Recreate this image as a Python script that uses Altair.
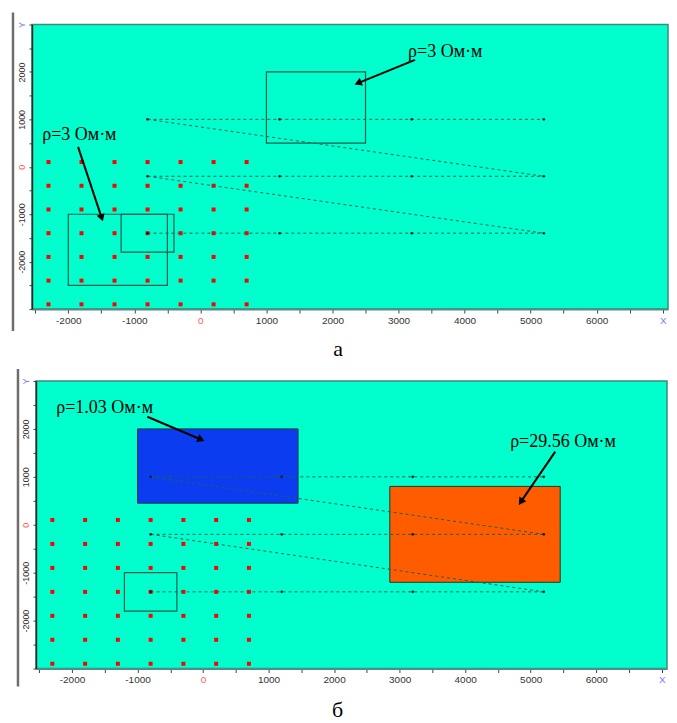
import math
import altair as alt
import pandas as pd

# ---------------- data ----------------
grid_x = [-2300, -1800, -1300, -800, -300, 200, 700]
grid_y = [100, -400, -900, -1400, -1900, -2400, -2900]

profile_y = [1000, -200, -1400]
source_x = [-800, 1200, 3200, 5200]
diag_x1 = [-800, -800]
diag_y1 = [1000, -200]
diag_x2 = [5200, 5200]
diag_y2 = [-200, -1400]

# panel a: outlined blocks
a_box_x1 = [-2000, -1200, 1000]
a_box_x2 = [-500, -400, 2500]
a_box_y1 = [-2500, -1800, 500]
a_box_y2 = [-1000, -1000, 2000]
a_text = ["ρ=3 Ом·м", "ρ=3 Ом·м"]
a_text_x = [-2395, 3145]
a_text_y = [674, 2421]
a_arrow_x1 = [-1852, 3250]
a_arrow_y1 = [421, 2253]
a_arrow_x2 = [-1475, 2330]
a_arrow_y2 = [-1158, 1733]

# panel b: outlined block + inverted blocks
b_box_x1 = [-1200]
b_box_x2 = [-400]
b_box_y1 = [-1800]
b_box_y2 = [-1000]
b_fill_x1 = [-1000, 2850]
b_fill_x2 = [1450, 5450]
b_fill_y1 = [450, -1200]
b_fill_y2 = [2000, 800]
b_fill_color = ["#0b3cf0", "#ff5c00"]
b_text = ["ρ=1.03 Ом·м", "ρ=29.56 Ом·м"]
b_text_x = [-2240, 4686]
b_text_y = [2446, 1735]
b_arrow_x1 = [-851, 5375]
b_arrow_y1 = [2253, 1527]
b_arrow_x2 = [26, 4815]
b_arrow_y2 = [1747, 408]

captions = ["а", "б"]

# ---------------- layout constants ----------------
X_DOM = [-2550, 7080]
Y_DOM = [-3000, 3000]
W_TOP = 637
W_BOT = 632
H_TOP = 285
H_BOT = 288
BG = "#00ffcc"
LINE_C = "#1f5f55"
BOX_C = "#1d5a4c"

xs = alt.Scale(domain=X_DOM, nice=False, zero=False)
ys = alt.Scale(domain=Y_DOM, nice=False, zero=False)

x_axis = alt.Axis(
    values=list(range(-2500, 7001, 500)),
    labelExpr="datum.value == 7000 ? 'X' : ((datum.value % 1000 == 0 && datum.value > -2500) ? '' + datum.value : '')",
    labelColor={"condition": [{"test": "datum.value == 0", "value": "#ff5a5a"},
                              {"test": "datum.value == 7000", "value": "#7a7aff"}],
                "value": "#333333"},
    labelFont="Liberation Sans", labelFontSize=10, labelOverlap=False, labelFlush=False,
    tickSize=4, tickColor="#444444", domainColor="#4d8f84", domainWidth=2,
    grid=False, title=None, labelPadding=2,
)
y_axis = alt.Axis(
    values=list(range(-3000, 3001, 500)),
    labelExpr="datum.value == 3000 ? 'Y' : ((datum.value % 1000 == 0 && datum.value > -3000) ? '' + datum.value : '')",
    labelColor={"condition": [{"test": "datum.value == 0", "value": "#ff5a5a"},
                              {"test": "datum.value == 3000", "value": "#7a7aff"}],
                "value": "#333333"},
    labelFont="Liberation Sans", labelFontSize=9, labelOverlap=False, labelFlush=False,
    labelAngle=270, labelAlign="center", labelBaseline="bottom",
    tickSize=3, tickColor="#444444", domainColor="#222222", domainWidth=1.5,
    grid=False, title=None, labelPadding=2,
)


def xenc(f="x"):
    return alt.X(f"{f}:Q", scale=xs, axis=x_axis)


def yenc(f="y"):
    return alt.Y(f"{f}:Q", scale=ys, axis=y_axis)


def common_layers(height, fx, fy1, fy2):
    grid = pd.DataFrame([(gx, gy) for gy in grid_y for gx in grid_x], columns=["x", "y"])
    dots = alt.Chart(grid).mark_square(size=16, color="#ff0000", opacity=1).encode(x=xenc(), y=yenc())

    hl = pd.DataFrame({"x": [source_x[0]] * 3, "x2": [source_x[-1]] * 3, "y": profile_y})
    hlines = alt.Chart(hl).mark_rule(color=LINE_C, strokeDash=[3, 3], strokeWidth=1).encode(
        x=xenc(), x2="x2:Q", y=yenc())
    dg = pd.DataFrame({"x": diag_x1, "y": diag_y1, "x2": diag_x2, "y2": diag_y2})
    dlines = alt.Chart(dg).mark_rule(color=LINE_C, strokeDash=[3, 3], strokeWidth=1).encode(
        x=xenc(), y=yenc(), x2="x2:Q", y2="y2:Q")
    src = pd.DataFrame([(sx, py) for py in profile_y for sx in source_x], columns=["x", "y"])
    srcs = alt.Chart(src).mark_circle(size=7, color="#102020", opacity=1).encode(x=xenc(), y=yenc())

    frame = alt.Chart(pd.DataFrame({"k": [0]})).mark_rule(
        color="#6e6e6e", strokeWidth=2.5, clip=False).encode(
        x=alt.value(fx), y=alt.value(fy1), y2=alt.value(height + fy2))
    return dots, hlines, dlines, srcs, frame


def boxes(x1, x2, y1, y2):
    df = pd.DataFrame({"x": x1, "x2": x2, "y": y1, "y2": y2})
    return alt.Chart(df).mark_rect(filled=False, stroke=BOX_C, strokeWidth=1.2).encode(
        x=xenc(), x2="x2:Q", y=yenc(), y2="y2:Q")


def arrows(tx, ty, hx, hy, width, height):
    kx = width / (X_DOM[1] - X_DOM[0])
    ky = height / (Y_DOM[1] - Y_DOM[0])
    rows = []
    for a, b, c, d in zip(tx, ty, hx, hy):
        dx = (c - a) * kx
        dy = -(d - b) * ky
        L = math.hypot(dx, dy)
        ang = math.degrees(math.atan2(dx, -dy)) % 360
        back = 4.0
        cx = c - dx / L * back / kx
        cy = d + dy / L * back / ky
        rows.append({"x": a, "y": b, "x2": cx, "y2": cy, "hx": cx, "hy": cy, "ang": ang})
    df = pd.DataFrame(rows)
    shaft = alt.Chart(df).mark_rule(color="black", strokeWidth=2).encode(
        x=xenc(), y=yenc(), x2="x2:Q", y2="y2:Q")
    head = alt.Chart(df).mark_point(shape="triangle-up", filled=True, color="black",
                                    opacity=1, size=70).encode(
        x=alt.X("hx:Q", scale=xs, axis=x_axis), y=alt.Y("hy:Q", scale=ys, axis=y_axis),
        angle=alt.Angle("ang:Q", scale=None))
    return shaft, head


def labels(txt, tx, ty):
    df = pd.DataFrame({"t": txt, "x": tx, "y": ty})
    return alt.Chart(df).mark_text(align="left", baseline="middle", font="Liberation Serif",
                                   fontSize=18, color="black").encode(
        x=xenc(), y=yenc(), text="t:N")


def caption(t, dx, offset):
    return alt.TitleParams(t, orient="bottom", anchor="middle", font="Liberation Serif",
                           fontSize=22, fontWeight="normal", color="black", offset=offset, dx=dx)


def spacer(w):
    return alt.Chart(pd.DataFrame({"k": [0]})).mark_rect(opacity=0).encode(
        x=alt.value(0), x2=alt.value(w), y=alt.value(0), y2=alt.value(1)
    ).properties(width=w, height=1,
                 view=alt.ViewBackground(stroke="transparent", fill="transparent"))


view_bg = alt.ViewBackground(fill=BG, stroke="#3f8a7c", strokeWidth=1.5)

# panel a
d, hl, dl, sr, fr = common_layers(H_TOP, -19, -12, 22)
sh_a, hd_a = arrows(a_arrow_x1, a_arrow_y1, a_arrow_x2, a_arrow_y2, W_TOP, H_TOP)
top = alt.layer(
    d, boxes(a_box_x1, a_box_x2, a_box_y1, a_box_y2), hl, dl, sr,
    labels(a_text, a_text_x, a_text_y), sh_a, hd_a, fr,
).properties(width=W_TOP, height=H_TOP, title=caption(captions[0], -12, 7), view=view_bg)

# panel b
d, hl, dl, sr, fr = common_layers(H_BOT, -18, -12, 18)
fills_df = pd.DataFrame({"x": b_fill_x1, "x2": b_fill_x2, "y": b_fill_y1, "y2": b_fill_y2,
                         "c": b_fill_color})
fills = alt.Chart(fills_df).mark_rect(stroke="#1a3a30", strokeWidth=1).encode(
    x=xenc(), x2="x2:Q", y=yenc(), y2="y2:Q", color=alt.Color("c:N", scale=None))
sh_b, hd_b = arrows(b_arrow_x1, b_arrow_y1, b_arrow_x2, b_arrow_y2, W_BOT, H_BOT)
bottom = alt.layer(
    fills, d, boxes(b_box_x1, b_box_x2, b_box_y1, b_box_y2), hl, dl, sr,
    labels(b_text, b_text_x, b_text_y), sh_b, hd_b, fr,
).properties(width=W_BOT, height=H_BOT, title=caption(captions[1], -14, 12), view=view_bg)

chart = alt.vconcat(
    alt.hconcat(spacer(1), top, spacing=0),
    alt.hconcat(spacer(6), bottom, spacing=0),
    spacing=6,
).properties(
    padding={"left": 0, "top": 2, "right": 0, "bottom": 0}
).configure(background="white")

chart.save("out.html", embed_options={"renderer": "svg", "actions": False})
